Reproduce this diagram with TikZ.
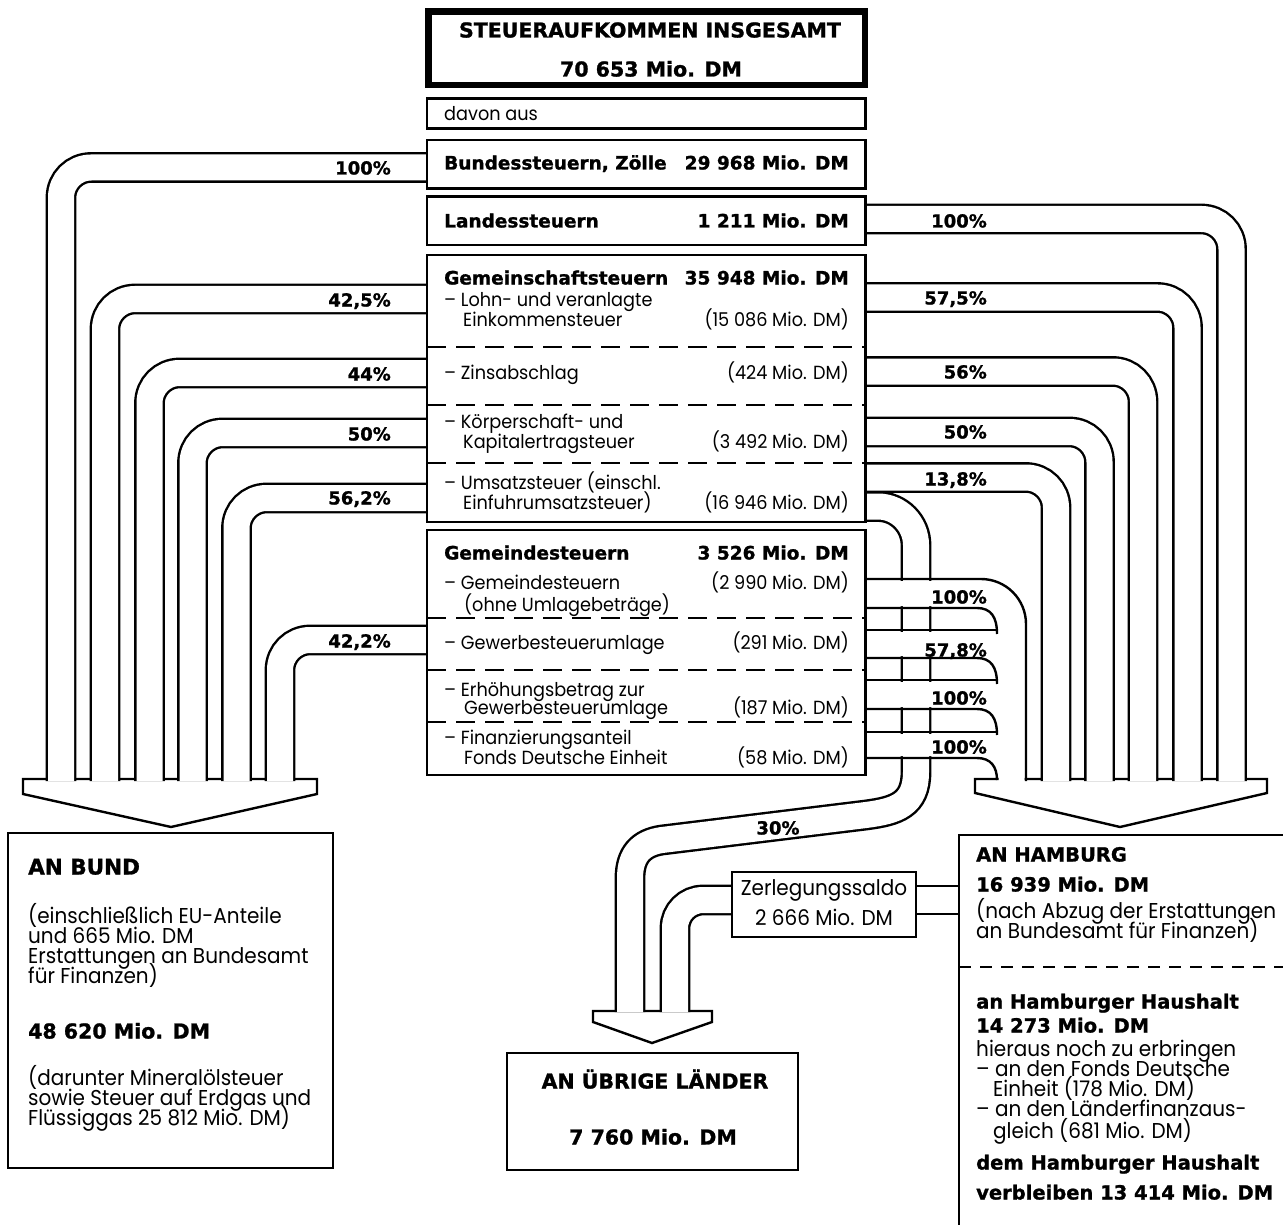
\documentclass[tikz,border=0pt]{standalone}
\usepackage{fontspec}
\setmainfont{Poppins}[FakeStretch=0.93]
\newfontfamily\boldfont{DejaVu Sans}[BoldFeatures={FakeBold=1.2}]
\usetikzlibrary{fit}

\tikzset{
  box/.style={draw, fill=white, line width=2.4pt, inner sep=0pt},
  pipe/.style={line width=2.4pt, double=white, double distance=26pt, rounded corners=30pt},
  plate/.style={draw, fill=white, line width=2.4pt},
  sepline/.style={line width=2.4pt, dash pattern=on 19pt off 10pt},
  txt/.style={inner sep=0pt, anchor=west, text height=13pt, text depth=0pt, font=\fontsize{19}{20}\selectfont},
  txtb/.style={txt, font=\fontsize{21.5}{22}\selectfont},
  txtr/.style={txt, anchor=east},
  txtc/.style={txt, anchor=center},
  bf/.style={font=\boldfont\fontsize{#1}{20}\selectfont\bfseries},
  bf/.default=18.5,
  pct/.style={txtr, bf=18}
}

\begin{document}
\begin{tikzpicture}[x=1pt, y=-1pt, line width=2.4pt]
\useasboundingbox (0,0) rectangle (1283,1225);

% Pfeilspitzen
\draw[plate] (23,779) -- (317,779) -- (317,794) -- (171,827) -- (23,794) -- cycle;
\draw[plate] (975,779) -- (1267,779) -- (1267,793) -- (1120,827) -- (975,793) -- cycle;
\draw[plate] (593,1011) -- (712,1011) -- (712,1022) -- (652,1043) -- (593,1022) -- cycle;

% Baender an den Bund
\foreach \yc/\xc in {167.5/61, 299/105, 373/149.5, 433/192.5, 498/236.5, 640/280}
  \draw[pipe] (428,\yc) -| (\xc,781);

% 30% an die uebrigen Laender
\draw[pipe, sharp corners] (864,506.5) -- (878,506.5) .. controls (899,506.5) and (916,524) .. (916,545)
  -- (916,772) .. controls (916,805) and (896,811) .. (866,815) -- (662,840)
  .. controls (641,843) and (630,855) .. (630,878) -- (630,1012);

% Zerlegungssaldo
\draw[pipe, rounded corners=28pt] (733,900) -| (675,1012);
\draw[pipe] (915,900) -- (959,900);

% Baender an Hamburg
\foreach \yc/\xc in {219/1231.5, 297.5/1187.5, 371.5/1143, 432/1099.5, 477.5/1056}
  \draw[pipe] (864,\yc) -| (\xc,781);

% Gemeindesteuern an Hamburg
\fill[white] (866,581) rectangle (996,606) (866,632) rectangle (996,656)
  (866,682) rectangle (996,707) (866,734) rectangle (996,756) (998.5,600) rectangle (1024.5,781);
\draw[rounded corners=45pt] (865,579) -| (1026,781);
\foreach \y in {630,680,732} \draw (865,\y) -- (997,\y);
\foreach \y/\e in {608/634, 658/684, 709/735, 758/780}
  \draw (865,\y) -- (977,\y) .. controls (991,\y) and (997,\y+9) .. (997,\e);

% Kaesten
\node[box, line width=6.5pt, fit={(428.5,11.5) (865,85)}] (gesamt) {};
\node[box, fit={(427,98.5) (865.5,128.5)}] (davon) {};
\node[box, fit={(427,140) (865.5,188.5)}] (bundst) {};
\node[box, fit={(427,196.5) (865.5,245)}] (landst) {};
\node[box, fit={(427,255) (865.5,522)}] (gemsch) {};
\node[box, fit={(427,530) (865.5,775)}] (gemde) {};
\foreach \y in {347,405,463,618,670,722} \draw[sepline] (427,\y) -- (865.5,\y);
\node[box, fit={(8,833) (333,1168)}] (anbund) {};
\node[box, fit={(507,1053) (798,1170)}] (anlaender) {};
\node[box, fit={(732,872) (916,937)}] (zerl) {};
\node[box, fit={(959,835) (1300,1240)}] (anhh) {};
\draw[sepline, dash pattern=on 12pt off 9pt] (959,967) -- (1283,967);

% Texte Mitte
\node[txtc, bf=20.5] (t-ges1) at (650,31) {STEUERAUFKOMMEN INSGESAMT};
\node[txtc, bf=20.5] (t-ges2) at (651,70) {70 653 Mio. DM};
\node[txt] (t-davon) at (443,114) {davon aus};
\node[txt, bf] (t-bund1) at (443,163) {Bundessteuern, Zölle};
\node[txtr, bf] (t-bund2) at (850,163) {29 968 Mio. DM};
\node[txt, bf] (t-land1) at (443,221) {Landessteuern};
\node[txtr, bf] (t-land2) at (850,221) {1 211 Mio. DM};
\node[txt, bf] (t-gem1) at (443,278) {Gemeinschaftsteuern};
\node[txtr, bf] (t-gem2) at (850,278) {35 948 Mio. DM};
\node[txt] (t-lohn1) at (443,300) {– Lohn- und veranlagte};
\node[txt] (t-lohn2) at (462,320) {Einkommensteuer};
\node[txtr] (t-lohn3) at (850,320) {(15 086 Mio. DM)};
\node[txt] (t-zins1) at (443,373) {– Zinsabschlag};
\node[txtr] (t-zins2) at (850,373) {(424 Mio. DM)};
\node[txt] (t-koerp1) at (443,422) {– Körperschaft- und};
\node[txt] (t-koerp2) at (462,442) {Kapitalertragsteuer};
\node[txtr] (t-koerp3) at (850,442) {(3 492 Mio. DM)};
\node[txt] (t-ust1) at (443,483) {– Umsatzsteuer (einschl.};
\node[txt] (t-ust2) at (462,503) {Einfuhrumsatzsteuer)};
\node[txtr] (t-ust3) at (850,503) {(16 946 Mio. DM)};
\node[txt, bf] (t-gde1) at (443,553) {Gemeindesteuern};
\node[txtr, bf] (t-gde2) at (850,553) {3 526 Mio. DM};
\node[txt] (t-gst1) at (443,583) {– Gemeindesteuern};
\node[txtr] (t-gst2) at (850,583) {(2 990 Mio. DM)};
\node[txt] (t-gst3) at (463,605) {(ohne Umlagebeträge)};
\node[txt] (t-umla1) at (443,643) {– Gewerbesteuerumlage};
\node[txtr] (t-umla2) at (850,643) {(291 Mio. DM)};
\node[txt] (t-erh1) at (443,690) {– Erhöhungsbetrag zur};
\node[txt] (t-erh2) at (463,708) {Gewerbesteuerumlage};
\node[txtr] (t-erh3) at (850,708) {(187 Mio. DM)};
\node[txt] (t-fde1) at (443,738) {– Finanzierungsanteil};
\node[txt] (t-fde2) at (463,758) {Fonds Deutsche Einheit};
\node[txtr] (t-fde3) at (850,758) {(58 Mio. DM)};

% Prozente
\foreach \y/\p [count=\i] in {168/100, 300/{42,5}, 374/44, 434/50, 498/{56,2}, 641/{42,2}}
  \node[pct] (pl\i) at (392,\y) {\p\%};
\foreach \y/\p [count=\i] in {221/100, 298/{57,5}, 372/56, 432/50, 479/{13,8}, 597/100, 650/{57,8}, 698/100, 747/100}
  \node[pct] (pr\i) at (988,\y) {\p\%};
\node[txtc, bf=18] (p30) at (778,828) {30\%};

% Bund
\node[txt, bf=21.5] (b1) at (27,868) {AN BUND};
\node[txtb] (b2) at (27,917) {(einschließlich EU-Anteile};
\node[txtb] (b3) at (27,937) {und 665 Mio. DM};
\node[txtb] (b4) at (27,957) {Erstattungen an Bundesamt};
\node[txtb] (b5) at (27,977) {für Finanzen)};
\node[txt, bf=20.5] (b6) at (27,1032) {48 620 Mio. DM};
\node[txtb] (b7) at (27,1079) {(darunter Mineralölsteuer};
\node[txtb] (b8) at (27,1099) {sowie Steuer auf Erdgas und};
\node[txtb] (b9) at (27,1119) {Flüssiggas 25 812 Mio. DM)};

% uebrige Laender, Zerlegung
\node[txtc, bf=20.5] (l1) at (655,1082) {AN ÜBRIGE LÄNDER};
\node[txtc, bf=20.5] (l2) at (653,1138) {7 760 Mio. DM};
\node[txtb, anchor=center] (z1) at (824,889) {Zerlegungssaldo};
\node[txtb, anchor=center] (z2) at (824,919) {2 666 Mio. DM};

% Hamburg
\node[txt, bf=19.5] (h1) at (975,855) {AN HAMBURG};
\node[txt, bf=19.5] (h2) at (975,885) {16 939 Mio. DM};
\node[txtb] (h3) at (975,912) {(nach Abzug der Erstattungen};
\node[txtb] (h4) at (975,932) {an Bundesamt für Finanzen)};
\node[txt, bf=19.5] (h5) at (975,1002) {an Hamburger Haushalt};
\node[txt, bf=19.5] (h6) at (975,1026) {14 273 Mio. DM};
\node[txtb] (h7) at (975,1050) {hieraus noch zu erbringen};
\node[txtb] (h8) at (975,1070) {– an den Fonds Deutsche};
\node[txtb] (h9) at (992,1090) {Einheit (178 Mio. DM)};
\node[txtb] (h10) at (975,1110) {– an den Länderfinanzaus-};
\node[txtb] (h11) at (992,1132) {gleich (681 Mio. DM)};
\node[txt, bf=19.5] (h12) at (975,1163) {dem Hamburger Haushalt};
\node[txt, bf=19.5] (h13) at (975,1193) {verbleiben 13 414 Mio. DM};
\end{tikzpicture}
\end{document}
